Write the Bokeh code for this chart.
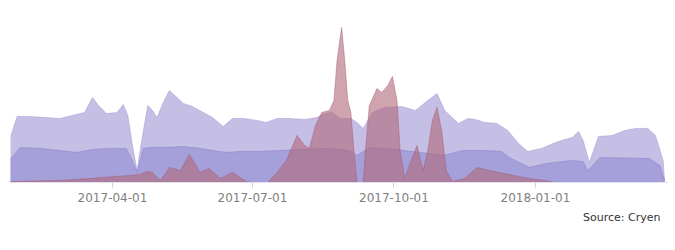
from datetime import datetime
from bokeh.plotting import figure
from bokeh.models import FixedTicker, DatetimeTickFormatter, Range1d, Title
from bokeh.embed import file_html
from bokeh.resources import INLINE

# --- data ---
lav_dates = ["2017-01-24", "2017-01-29", "2017-02-06", "2017-02-16", "2017-02-26", "2017-03-06",
             "2017-03-14", "2017-03-19", "2017-03-23", "2017-03-28", "2017-04-04", "2017-04-08",
             "2017-04-11", "2017-04-14", "2017-04-17", "2017-04-20", "2017-04-24", "2017-04-27",
             "2017-04-30", "2017-05-04", "2017-05-08", "2017-05-13", "2017-05-17", "2017-05-23",
             "2017-05-30", "2017-06-05", "2017-06-12", "2017-06-18", "2017-06-25", "2017-07-04",
             "2017-07-10", "2017-07-17", "2017-07-25", "2017-08-04", "2017-08-12", "2017-08-17",
             "2017-08-22", "2017-08-27", "2017-09-03", "2017-09-07", "2017-09-11", "2017-09-17",
             "2017-09-25", "2017-10-06", "2017-10-15", "2017-10-23", "2017-10-29", "2017-11-03",
             "2017-11-12", "2017-11-18", "2017-11-23", "2017-11-29", "2017-12-07", "2017-12-14",
             "2017-12-21", "2017-12-27", "2018-01-05", "2018-01-14", "2018-01-20", "2018-01-25",
             "2018-01-29", "2018-02-01", "2018-02-05", "2018-02-11", "2018-02-20", "2018-02-28",
             "2018-03-07", "2018-03-15", "2018-03-20", "2018-03-25", "2018-03-26"]
lav_values = [26.3, 41.3, 41.3, 40.6, 40.0, 41.9,
              43.8, 53.1, 48.1, 43.1, 43.8, 48.8,
              41.9, 23.1, 7.5, 26.3, 48.1, 45.0,
              40.6, 50.0, 57.5, 53.1, 49.4, 47.5,
              43.8, 40.6, 35.0, 40.0, 40.0, 38.8,
              37.5, 40.0, 40.0, 39.4, 40.6, 43.1,
              43.8, 40.0, 40.0, 37.5, 33.8, 43.8,
              46.9, 47.5, 45.0, 51.3, 55.6, 45.0,
              36.9, 40.0, 39.4, 37.5, 36.9, 32.5,
              24.4, 19.4, 21.3, 25.0, 26.9, 28.1,
              31.9, 26.3, 12.5, 28.8, 29.4, 32.5,
              33.8, 33.8, 29.4, 13.8, 1.0]

blue_dates = ["2017-01-24", "2017-01-31", "2017-02-13", "2017-02-26", "2017-03-09", "2017-03-19",
              "2017-03-30", "2017-04-10", "2017-04-14", "2017-04-17", "2017-04-21", "2017-04-27",
              "2017-05-06", "2017-05-17", "2017-05-28", "2017-06-05", "2017-06-14", "2017-06-23",
              "2017-07-06", "2017-07-19", "2017-08-01", "2017-08-20", "2017-09-02", "2017-09-07",
              "2017-09-15", "2017-10-03", "2017-10-18", "2017-11-02", "2017-11-15", "2017-11-30",
              "2017-12-10", "2017-12-15", "2017-12-28", "2018-01-08", "2018-01-25", "2018-02-01",
              "2018-02-04", "2018-02-12", "2018-03-16", "2018-03-23", "2018-03-26"]
blue_values = [13.8, 21.9, 21.3, 20.0, 18.8, 20.6,
               21.3, 21.3, 13.8, 6.3, 21.3, 21.9,
               21.9, 22.5, 21.3, 20.0, 18.8, 19.4,
               19.4, 20.0, 20.6, 21.3, 20.0, 16.9,
               21.9, 20.6, 18.8, 16.9, 20.0, 20.0,
               19.4, 15.6, 9.4, 11.9, 13.8, 13.1,
               7.5, 15.6, 15.0, 10.6, 1.3]

red_dates = ["2017-01-24", "2017-02-26", "2017-03-17", "2017-04-03", "2017-04-12", "2017-04-19",
             "2017-04-23", "2017-04-27", "2017-05-02", "2017-05-05", "2017-05-08", "2017-05-15",
             "2017-05-21", "2017-05-28", "2017-06-03", "2017-06-10", "2017-06-18", "2017-06-27",
             "2017-07-01", "2017-07-11", "2017-07-17", "2017-07-23", "2017-07-30", "2017-08-04",
             "2017-08-07", "2017-08-11", "2017-08-15", "2017-08-20", "2017-08-23", "2017-08-25",
             "2017-08-28", "2017-08-30", "2017-09-01", "2017-09-03", "2017-09-05", "2017-09-07",
             "2017-09-11", "2017-09-13", "2017-09-15", "2017-09-20", "2017-09-23", "2017-09-27",
             "2017-09-30", "2017-10-03", "2017-10-05", "2017-10-08", "2017-10-11", "2017-10-16",
             "2017-10-20", "2017-10-23", "2017-10-26", "2017-10-29", "2017-11-01", "2017-11-04",
             "2017-11-08", "2017-11-16", "2017-11-24", "2017-12-02", "2017-12-15", "2017-12-28",
             "2018-01-07", "2018-01-14"]
red_values = [0.6, 1.3, 2.5, 3.8, 4.4, 5.0,
              6.9, 6.3, 1.3, 5.0, 9.4, 7.5,
              17.5, 6.3, 8.8, 2.5, 6.3, 0.6,
              0.0, 0.0, 6.3, 13.8, 29.4, 23.1,
              21.3, 35.6, 43.8, 45.0, 51.3, 76.3,
              96.9, 76.3, 51.3, 43.8, 20.0, 0.0,
              0.0, 26.3, 48.1, 58.8, 56.3, 60.6,
              66.3, 51.3, 20.0, 2.5, 10.6, 23.1,
              7.5, 20.0, 38.8, 46.9, 32.5, 7.5,
              0.6, 2.5, 9.4, 7.5, 5.0, 2.5,
              1.3, 0.0]

tick_labels = ["2017-04-01", "2017-07-01", "2017-10-01", "2018-01-01"]
source_text = "Source: Cryen"


def to_dt(lst):
    return [datetime.strptime(s, "%Y-%m-%d") for s in lst]


def ms(d):
    return (d - datetime(1970, 1, 1)).total_seconds() * 1000.0


x_start = datetime(2017, 1, 24, 17)
x_end = datetime(2018, 3, 28, 12)

p = figure(width=675, height=250, x_axis_type="datetime", y_axis_type=None,
           output_backend="svg", toolbar_location=None,
           x_range=Range1d(x_start, x_end), y_range=Range1d(0, 100),
           min_border_left=10, min_border_right=7, min_border_top=22, min_border_bottom=68)

p.background_fill_color = "white"
p.border_fill_color = "white"
p.outline_line_color = None
p.xgrid.grid_line_color = None
p.ygrid.grid_line_color = None

series = [
    (lav_dates, lav_values, "#ada2da", 0.7, "#9c90d0"),
    (blue_dates, blue_values, "#8a86d0", 0.55, "#817bc8"),
    (red_dates, red_values, "#b06878", 0.6, "#a25c72"),
]
for dates, vals, col, a, lcol in series:
    xs = to_dt(dates)
    p.varea(x=xs, y1=[0] * len(xs), y2=vals, fill_color=col, fill_alpha=a)
    p.line(x=xs, y=vals, line_color=lcol, line_alpha=0.45, line_width=1, line_join="round")

ticks = [ms(datetime.strptime(t, "%Y-%m-%d")) for t in tick_labels]
p.xaxis.ticker = FixedTicker(ticks=ticks)
fmt = "%Y-%m-%d"
p.xaxis.formatter = DatetimeTickFormatter(days=fmt, months=fmt, years=fmt, hours=fmt,
                                          minutes=fmt, seconds=fmt, milliseconds=fmt,
                                          microseconds=fmt, minsec=fmt, hourmin=fmt)
p.xaxis.axis_line_color = "#e4e0ec"
p.xaxis.major_tick_line_color = "#d0d0d0"
p.xaxis.major_tick_out = 5
p.xaxis.major_tick_in = 0
p.xaxis.minor_tick_line_color = None
p.xaxis.major_label_text_font = "DejaVu Sans"
p.xaxis.major_label_text_font_size = "12px"
p.xaxis.major_label_text_color = "#808080"
p.xaxis.major_label_standoff = 5

t = Title(text=source_text, align="right", text_font="DejaVu Sans", text_font_size="11px",
          text_font_style="normal", text_color="#333333", offset=8, standoff=8)
p.add_layout(t, "below")

open("out.html", "w").write(file_html(p, INLINE))
